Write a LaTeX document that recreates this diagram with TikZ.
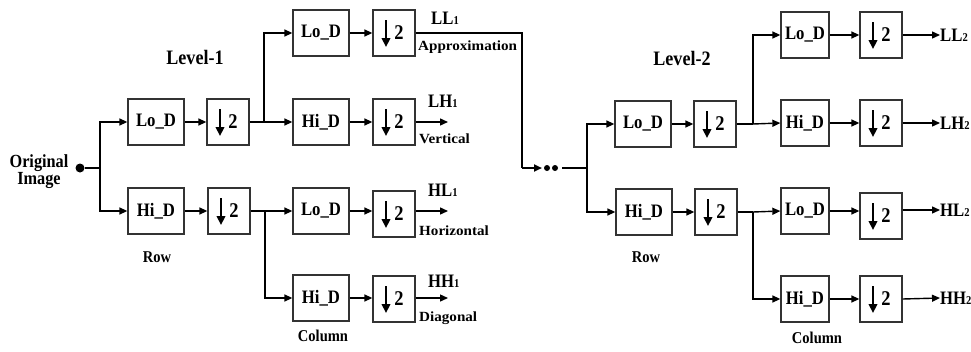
\documentclass[tikz,border=0pt]{standalone}
\usepackage{fontspec}
\setmainfont{Liberation Serif}
\newfontfamily\condfont[FakeStretch=0.88]{Liberation Serif}
\usetikzlibrary{arrows.meta}
\newcommand\subone[1]{{\fontsize{12}{12}\selectfont #1}}
\begin{document}
\begin{tikzpicture}[x=1pt,y=-1pt,
  font=\condfont\bfseries\fontsize{19}{19}\selectfont,
  box/.style={draw=black!80, line width=1.3pt, minimum width=56pt, minimum height=46pt, inner sep=0pt},
  nbox/.style={box, minimum width=48pt},
  dbox/.style={box, minimum width=42pt, font=\condfont\bfseries\fontsize{21}{21}\selectfont},
  ln/.style={line width=1.4pt},
  arr/.style={ln, -{Triangle[length=8pt,width=7pt]}},
  lab/.style={inner sep=0pt, font=\bfseries\fontsize{14}{14}\selectfont\addfontfeature{FakeStretch=1.08}},
  outl/.style={inner sep=0pt, font=\condfont\bfseries\fontsize{19}{19}\selectfont},
  ttl/.style={font=\condfont\bfseries\fontsize{20.5}{20.5}\selectfont},
  captxt/.style={font=\condfont\bfseries\fontsize{16.5}{16.5}\selectfont},
  dt/.style={circle, fill, inner sep=0pt, minimum size=#1}
]
\useasboundingbox (0,0) rectangle (971,351);

% ---------- Level 1 ----------
\node[align=center, font=\condfont\bfseries\fontsize{18.5}{17}\selectfont] (orig) at (39,172) {Original\\Image};
\node[dt=9pt] (dot) at (80,168) {};
\node[ttl] (lv1) at (195,57) {Level-1};
\node[captxt] (row1) at (157,257) {Row};
\node[captxt] (col1) at (323,336) {Column};

\node[box] (r1lo) at (156,122) {Lo\_D};
\node[dbox] (r1ld) at (228,122) {\hspace{10pt}2};
\node[box] (r1hi) at (156,211) {Hi\_D};
\node[dbox] (r1hd) at (229,211) {\hspace{10pt}2};

\node[box] (c1a) at (321,33) {Lo\_D};
\node[dbox] (c1ad) at (394,33) {\hspace{10pt}2};
\node[box] (c1b) at (321,122) {Hi\_D};
\node[dbox] (c1bd) at (394,122) {\hspace{10pt}2};
\node[box] (c1c) at (321,211) {Lo\_D};
\node[dbox] (c1cd) at (394,214) {\hspace{10pt}2};
\node[box] (c1d) at (321,298) {Hi\_D};
\node[dbox] (c1dd) at (394,299) {\hspace{10pt}2};

\coordinate (b1) at (100,168);
\coordinate (b2) at (264,122);
\coordinate (b3) at (265,211);
\draw[ln] (dot) -- (b1);
\draw[arr] (b1) |- (r1lo.west);
\draw[arr] (b1) |- (r1hi.west);
\draw[arr] (r1lo) -- (r1ld);
\draw[arr] (r1hi) -- (r1hd);
\draw[ln] (r1ld.east) -- (b2);
\draw[arr] (b2) |- (c1a.west);
\draw[arr] (b2) -- (c1b.west);
\draw[ln] (r1hd.east) -- (b3);
\draw[arr] (b3) -- (c1c.west);
\draw[arr] (b3) |- (c1d.west);
\draw[arr] (c1a) -- (c1ad);
\draw[arr] (c1b) -- (c1bd);
\draw[arr] (c1c) -- (c1c.east -| c1cd.west);
\draw[arr] (c1d) -- (c1d.east -| c1dd.west);

\coordinate (o1b) at (448,122);
\coordinate (o1c) at (448,211);
\coordinate (o1d) at (448,298);
\draw[arr] (c1bd.east |- o1b) -- (o1b);
\draw[arr] (c1cd.east |- o1c) -- (o1c);
\draw[arr] (c1dd.east |- o1d) -- (o1d);

\node[outl, anchor=west] (ll1) at (431,18) {LL\subone{1}};
\node[lab, anchor=west] (apx) at (418,47) {Approximation};
\node[outl, anchor=west] (lh1) at (428,101) {LH\subone{1}};
\node[lab, anchor=west] (ver) at (419,139) {Vertical};
\node[outl, anchor=west] (hl1) at (428,190) {HL\subone{1}};
\node[lab, anchor=west] (hor) at (419,231) {Horizontal};
\node[outl, anchor=west] (hh1) at (428,281) {HH\subone{1}};
\node[lab, anchor=west] (dia) at (419,318) {Diagonal};

% ---------- link ----------
\coordinate (k1) at (522,168);
\coordinate (e1) at (542,168);
\node[dt=6pt] (p1) at (547,168) {};
\node[dt=6pt] (p2) at (555,168) {};
\coordinate (s2) at (562,168);
\draw[line width=2.4pt] (c1ad.east) -| (k1);
\draw[line width=2.2pt, -{Triangle[length=8pt,width=7pt]}] (k1) -- (e1);

% ---------- Level 2 ----------
\node[ttl] (lv2) at (682,58) {Level-2};
\node[captxt] (row2) at (646,257) {Row};
\node[captxt] (col2) at (817,338) {Column};

\node[box] (r2lo) at (643,124) {Lo\_D};
\node[dbox] (r2ld) at (715,124) {\hspace{10pt}2};
\node[box] (r2hi) at (644,212) {Hi\_D};
\node[dbox] (r2hd) at (716,212) {\hspace{10pt}2};

\node[nbox] (c2a) at (805,35) {Lo\_D};
\node[dbox] (c2ad) at (881,35) {\hspace{10pt}2};
\node[nbox] (c2b) at (805,123) {Hi\_D};
\node[dbox] (c2bd) at (881,123) {\hspace{10pt}2};
\node[nbox] (c2c) at (805,211) {Lo\_D};
\node[dbox] (c2cd) at (881,216) {\hspace{10pt}2};
\node[nbox] (c2d) at (805,299) {Hi\_D};
\node[dbox] (c2dd) at (881,299) {\hspace{10pt}2};

\coordinate (b4) at (587,168);
\coordinate (b5) at (753,124);
\coordinate (b6) at (753,212);
\draw[ln] (s2) -- (b4);
\draw[arr] (b4) |- (r2lo.west);
\draw[arr] (b4) |- (r2hi.west);
\draw[arr] (r2lo) -- (r2ld);
\draw[arr] (r2hi) -- (r2hd);
\draw[ln] (r2ld.east) -- (b5);
\draw[arr] (b5) |- (c2a.west);
\draw[arr] (b5) -- (c2b.west);
\draw[ln] (r2hd.east) -- (b6);
\draw[arr] (b6) -- (c2c.west);
\draw[arr] (b6) |- (c2d.west);
\draw[arr] (c2a) -- (c2ad);
\draw[arr] (c2b) -- (c2bd);
\draw[arr] (c2c) -- (c2c.east -| c2cd.west);
\draw[arr] (c2d) -- (c2dd);

\node[outl, anchor=west] (ll2) at (940,35) {LL\subone{2}};
\node[outl, anchor=west] (lh2) at (940,123) {LH\subone{2}};
\node[outl, anchor=west] (hl2) at (940,210) {HL\subone{2}};
\node[outl, anchor=west] (hh2) at (940,298) {HH\subone{2}};
\draw[arr] (c2ad.east) -- (ll2.west);
\draw[arr] (c2bd.east) -- (lh2.west);
\draw[arr] (c2cd.east |- hl2) -- (hl2.west);
\draw[arr] (c2dd.east) -- (hh2.west);

% ---------- down-sampling arrows ----------
\foreach \n in {r1ld,r1hd,c1ad,c1bd,c1cd,c1dd,r2ld,r2hd,c2ad,c2bd,c2cd,c2dd}
  \draw[line width=2.6pt, -{Triangle[length=9pt,width=8.5pt]}]
    ([xshift=-8pt,yshift=13pt]\n.center) -- ([xshift=-8pt,yshift=-14pt]\n.center);
\end{tikzpicture}
\end{document}
